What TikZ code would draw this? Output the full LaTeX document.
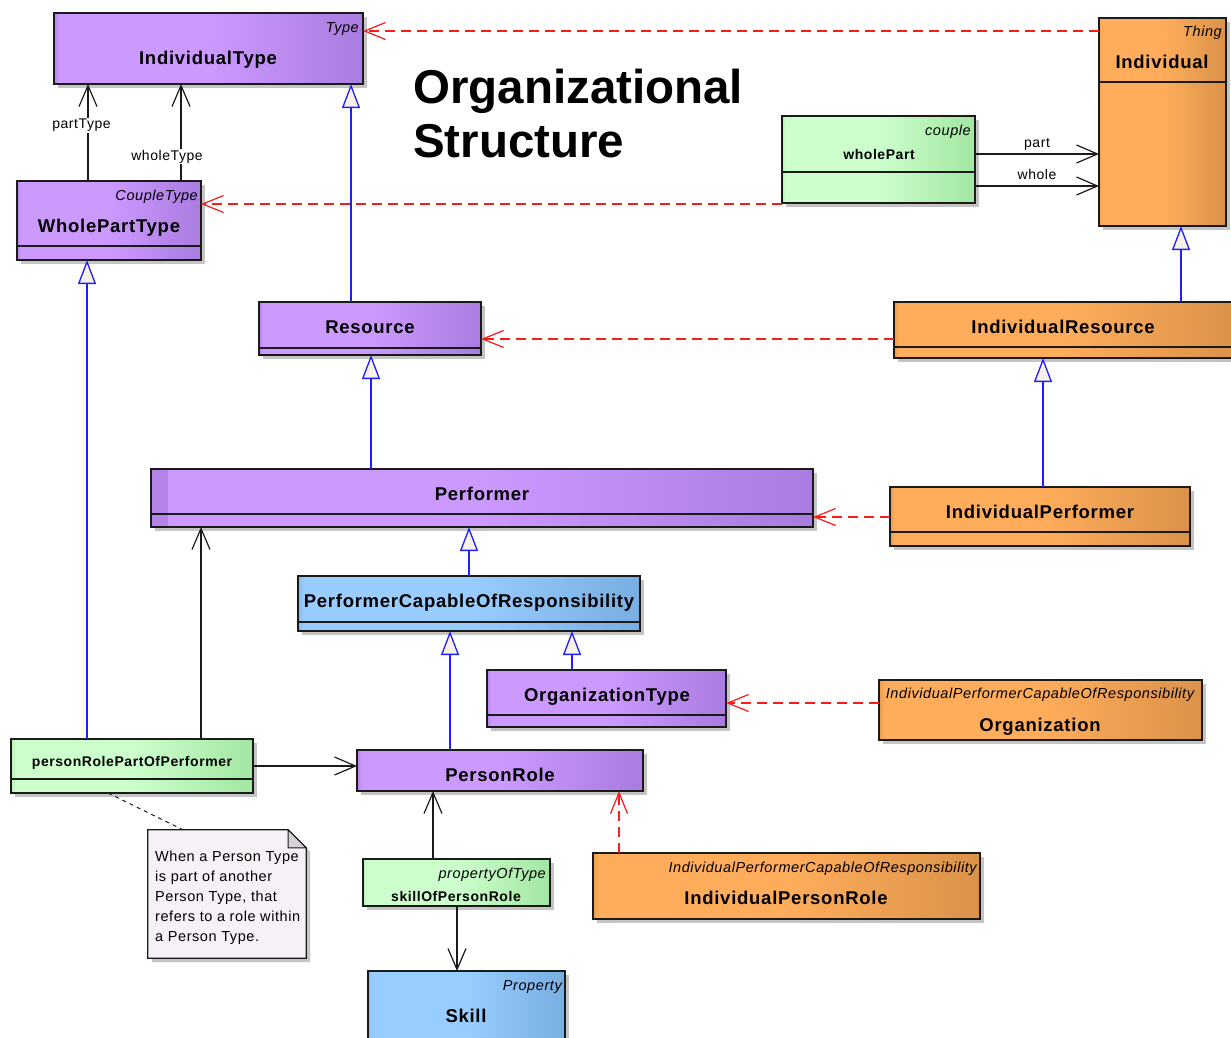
\documentclass[tikz,border=0pt]{standalone}
\usepackage{fontspec}
\setmainfont{Liberation Sans}
\newfontfamily\umlfont{Liberation Sans}[LetterSpace=4]
\usetikzlibrary{arrows.meta,shadows}

% class fill colours (light body, darker right edge, left strip)
\definecolor{purL}{HTML}{CC99FF}
\definecolor{purD}{HTML}{A97CDF}
\definecolor{purS}{HTML}{B383E8}
\definecolor{orgL}{HTML}{FFAD5B}
\definecolor{orgD}{HTML}{DA9249}
\definecolor{orgS}{HTML}{E89D50}
\definecolor{grnL}{HTML}{CCFFCC}
\definecolor{grnD}{HTML}{A2E6A2}
\definecolor{grnS}{HTML}{B0EDB0}
\definecolor{bluL}{HTML}{99CCFF}
\definecolor{bluD}{HTML}{79AEE2}
\definecolor{bluS}{HTML}{86BAEE}
\definecolor{noteF}{HTML}{F6F1F6}
\definecolor{noteC}{HTML}{D6CFD6}
\definecolor{genF}{HTML}{F7F1E8}
\definecolor{genB}{HTML}{1E1EFF}
\definecolor{edge}{HTML}{1A1A1A}
\definecolor{shadowgray}{HTML}{C4C4C4}
\definecolor{realred}{HTML}{FF1A1A}

% horizontal gradients: thin darker strip on the left, light body, darker right side
\pgfdeclarehorizontalshading{purshade}{100bp}{color(0bp)=(purS);color(25bp)=(purS);color(25.8bp)=(purL);color(50bp)=(purL);color(75bp)=(purD);color(100bp)=(purD)}
\pgfdeclarehorizontalshading{orgshade}{100bp}{color(0bp)=(orgS);color(25bp)=(orgS);color(25.8bp)=(orgL);color(50bp)=(orgL);color(75bp)=(orgD);color(100bp)=(orgD)}
\pgfdeclarehorizontalshading{grnshade}{100bp}{color(0bp)=(grnS);color(25bp)=(grnS);color(25.8bp)=(grnL);color(50bp)=(grnL);color(75bp)=(grnD);color(100bp)=(grnD)}
\pgfdeclarehorizontalshading{blushade}{100bp}{color(0bp)=(bluS);color(25bp)=(bluS);color(25.8bp)=(bluL);color(50bp)=(bluL);color(75bp)=(bluD);color(100bp)=(bluD)}

\tikzset{
  classbox/.style={draw=edge, line width=1.3pt, inner sep=0pt, outer sep=0pt,
    drop shadow={shadow xshift=4pt, shadow yshift=-4pt, fill=shadowgray, opacity=1}},
  purplebox/.style={classbox, shading=purshade},
  orangebox/.style={classbox, shading=orgshade},
  greenbox/.style={classbox, shading=grnshade},
  bluebox/.style={classbox, shading=blushade},
  sepline/.style={draw=edge, line width=1.2pt},
  cname/.style={font=\umlfont\bfseries\fontsize{18.5}{22}\selectfont, anchor=base, yshift=-6.6pt, inner sep=0pt},
  cnamesmall/.style={font=\umlfont\bfseries\fontsize{14}{17}\selectfont, anchor=base, yshift=-5pt, inner sep=0pt},
  stereo/.style={font=\umlfont\itshape\fontsize{14.5}{17}\selectfont, anchor=base east, yshift=-5.2pt, inner sep=0pt},
  lbl/.style={font=\umlfont\fontsize{14}{17}\selectfont, inner sep=1pt},
  gen/.style={draw=genB, line width=1.3pt, -{Triangle[open, length=24pt, width=18pt, fill=genF]}},
  assoc/.style={draw=edge, line width=1.2pt, -{Straight Barb[length=21pt, width=18pt]}},
  real/.style={draw=realred, line width=1.2pt, dash pattern=on 10pt off 6pt, -{Straight Barb[length=21pt, width=17pt]}},
  notelink/.style={draw=edge, line width=1pt, dash pattern=on 4pt off 4pt},
}

% \umlclass{name}{style}{x1}{y1}{x2}{y2}{separator y or empty}
\newcommand\umlclass[7]{%
  \node[#2, minimum width={(#5-#3)*1pt}, minimum height={(#6-#4)*1pt}] (#1) at ({(#3+#5)/2},{(#4+#6)/2}) {};%
  \ifx\relax#7\relax\else
    \draw[sepline] ([yshift={-(#7-#4)*1pt}]#1.north west) -- ([yshift={-(#7-#4)*1pt}]#1.north east);%
  \fi}

\begin{document}
\begin{tikzpicture}[x=1pt, y=-1pt]
\useasboundingbox (0,0) rectangle (1231,1037);
\fill[white] (0,0) rectangle (1231,1037);

% title (two lines; the node's base is the last line)
\node[anchor=base west, inner sep=0pt, align=left,
      font=\bfseries\fontsize{47.5}{54}\selectfont] (title) at (413,157) {Organizational\\Structure};

% classes
\umlclass{it}{purplebox}{54}{13}{363}{84}{}
\umlclass{ind}{orangebox}{1099}{18}{1226}{226}{82}
\umlclass{wp}{greenbox}{782}{116}{975}{203}{172}
\umlclass{wpt}{purplebox}{17}{181}{201}{260}{246}
\umlclass{res}{purplebox}{259}{302}{481}{355}{348}
\umlclass{ires}{orangebox}{894}{302}{1233}{358}{347}
\umlclass{perf}{purplebox}{151}{469}{813}{527}{}
\fill[purS] ([xshift=0.7pt,yshift=-0.7pt]perf.north west) rectangle ([xshift=17pt,yshift=0.7pt]perf.south west);
\draw[sepline] ([yshift=-45pt]perf.north west) -- ([yshift=-45pt]perf.north east);
\umlclass{iperf}{orangebox}{890}{487}{1190}{546}{532}
\umlclass{pcor}{bluebox}{298}{576}{640}{631}{622}
\umlclass{ot}{purplebox}{487}{670}{726}{727}{715}
\umlclass{org}{orangebox}{879}{680}{1202}{740}{}
\umlclass{pr}{purplebox}{357}{750}{643}{791}{}
\umlclass{prp}{greenbox}{11}{739}{253}{793}{779}
\umlclass{sopr}{greenbox}{363}{859}{550}{906}{}
\umlclass{skill}{bluebox}{368}{971}{565}{1050}{}
\umlclass{ipr}{orangebox}{593}{853}{980}{919}{}

% stereotypes
\node[stereo] (itS) at (359,27) {Type};
\node[stereo] (indS) at (1222,31) {Thing};
\node[stereo] (wpS) at (971,130) {couple};
\node[stereo] (wptS) at (198,195) {CoupleType};
\node[stereo, anchor=base] (orgS) at (1040,693) {IndividualPerformerCapableOfResponsibility};
\node[stereo] (iprS) at (977,867) {IndividualPerformerCapableOfResponsibility};
\node[stereo] (soprS) at (546,873) {propertyOfType};
\node[stereo] (skillS) at (562,985) {Property};

% class names
\node[cname] (itN) at (208,58) {IndividualType};
\node[cname] (indN) at (1162,62) {Individual};
\node[cnamesmall] (wpN) at (879,154) {wholePart};
\node[cname] (wptN) at (109,226) {WholePartType};
\node[cname] (resN) at (370,327) {Resource};
\node[cname] (iresN) at (1063,327) {IndividualResource};
\node[cname] (perfN) at (482,494) {Performer};
\node[cname] (iperfN) at (1040,512) {IndividualPerformer};
\node[cname] (pcorN) at (469,601) {PerformerCapableOfResponsibility};
\node[cname] (otN) at (607,695) {OrganizationType};
\node[cname] (orgN) at (1040,725) {Organization};
\node[cname] (prN) at (500,775) {PersonRole};
\node[cnamesmall] (prpN) at (132,761) {personRolePartOfPerformer};
\node[cnamesmall] (soprN) at (456,896) {skillOfPersonRole};
\node[cname] (skillN) at (466,1016) {Skill};
\node[cname] (iprN) at (786,898) {IndividualPersonRole};

% note with folded corner
\node[minimum width=158pt, minimum height=128pt, inner sep=0pt] (note) at (227,894) {};
\fill[shadowgray] ([xshift=4pt,yshift=-4pt]note.north west) -- ([xshift=-14pt,yshift=-4pt]note.north east)
  -- ([xshift=4pt,yshift=-22pt]note.north east) -- ([xshift=4pt,yshift=-4pt]note.south east)
  -- ([xshift=4pt,yshift=-4pt]note.south west) -- cycle;
\filldraw[fill=noteF, draw=edge, line width=1.2pt] (note.north west) -- ([xshift=-18pt]note.north east)
  -- ([yshift=-18pt]note.north east) -- (note.south east) -- (note.south west) -- cycle;
\filldraw[fill=noteC, draw=edge, line width=1pt] ([xshift=-18pt]note.north east)
  -- ([xshift=-18pt,yshift=-18pt]note.north east) -- ([yshift=-18pt]note.north east) -- cycle;
\node[anchor=north west, inner sep=0pt, align=left, font=\umlfont\fontsize{14.5}{20}\selectfont]
  (noteT) at (155,851) {When a Person Type\\is part of another\\Person Type, that\\refers to a role within\\a Person Type.};

% lanes for the connectors
\coordinate (x87) at (87,0);
\coordinate (x88) at (88,0);
\coordinate (x108) at (108,0);
\coordinate (x181) at (181,0);
\coordinate (x183) at (183,0);
\coordinate (x201) at (201,0);
\coordinate (x351) at (351,0);
\coordinate (x371) at (371,0);
\coordinate (x433) at (433,0);
\coordinate (x450) at (450,0);
\coordinate (x457) at (457,0);
\coordinate (x469) at (469,0);
\coordinate (x572) at (572,0);
\coordinate (x619) at (619,0);
\coordinate (x1043) at (1043,0);
\coordinate (x1181) at (1181,0);
\coordinate (y31) at (0,31);
\coordinate (y154) at (0,154);
\coordinate (y186) at (0,186);
\coordinate (y204) at (0,204);
\coordinate (y339) at (0,339);
\coordinate (y517) at (0,517);
\coordinate (y703) at (0,703);
\coordinate (y766) at (0,766);

% generalizations
\draw[gen] (x351 |- res.north) -- (x351 |- it.south);
\draw[gen] (x1181 |- ires.north) -- (x1181 |- ind.south);
\draw[gen] (x371 |- perf.north) -- (x371 |- res.south);
\draw[gen] (x1043 |- iperf.north) -- (x1043 |- ires.south);
\draw[gen] (x469 |- pcor.north) -- (x469 |- perf.south);
\draw[gen] (x572 |- ot.north) -- (x572 |- pcor.south);
\draw[gen] (x450 |- pr.north) -- (x450 |- pcor.south);
\draw[gen] (x87 |- prp.north) -- (x87 |- wpt.south);

% instance-of (dashed) links
\draw[real] (ind.west |- y31) -- (it.east |- y31);
\draw[real] (wp.west |- y204) -- (wpt.east |- y204);
\draw[real] (ires.west |- y339) -- (res.east |- y339);
\draw[real] (iperf.west |- y517) -- (perf.east |- y517);
\draw[real] (org.west |- y703) -- (ot.east |- y703);
\draw[real] (x619 |- ipr.north) -- (x619 |- pr.south);

% associations
\draw[assoc] (x88 |- wpt.north) -- node[lbl, fill=white, pos=0.588, anchor=base, xshift=-6.5pt, yshift=-5pt] {partType} (x88 |- it.south);
\draw[assoc] (x181 |- wpt.north) -- node[lbl, fill=white, pos=0.268, anchor=base, xshift=-14pt, yshift=-5pt] {wholeType} (x181 |- it.south);
\draw[assoc] (wp.east |- y154) -- node[lbl, anchor=base, yshift=7pt] {part} (ind.west |- y154);
\draw[assoc] (wp.east |- y186) -- node[lbl, anchor=base, yshift=7pt] {whole} (ind.west |- y186);
\draw[assoc] (x201 |- prp.north) -- (x201 |- perf.south);
\draw[assoc] (prp.east |- y766) -- (pr.west |- y766);
\draw[assoc] (x433 |- sopr.north) -- (x433 |- pr.south);
\draw[assoc] (x457 |- sopr.south) -- (x457 |- skill.north);

% note attachment
\draw[notelink] (x108 |- prp.south) -- (x183 |- note.north);
\end{tikzpicture}
\end{document}
